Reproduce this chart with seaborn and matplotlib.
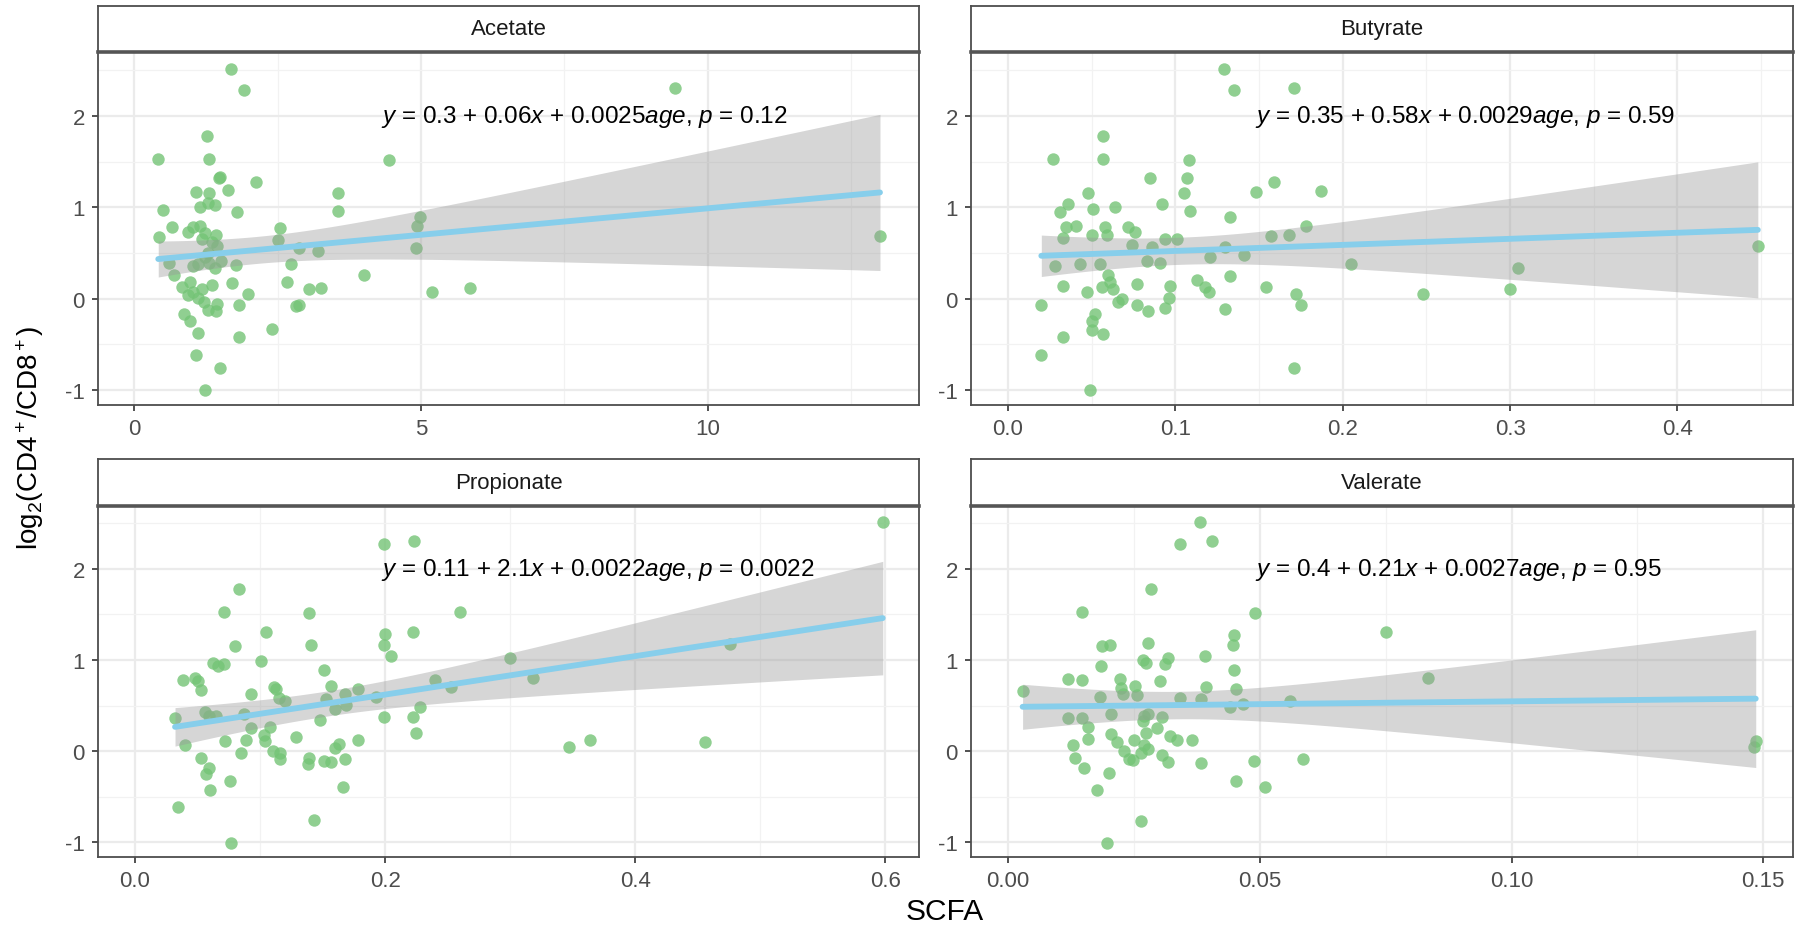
import numpy as np
import pandas as pd
import matplotlib
matplotlib.use("Agg")
import matplotlib.pyplot as plt
import seaborn as sns

# ---------------- data ----------------
panels = ["Acetate", "Butyrate", "Propionate", "Valerate"]

acetate_x = [1.69, 1.92, 9.43, 1.27, 0.42, 1.31, 4.44, 1.48, 1.50, 2.13, 1.07, 1.31, 1.64, 3.56,
             1.15, 1.28, 1.41, 1.80, 0.50, 3.55, 4.99, 4.93, 0.66, 0.94, 1.02, 1.15, 1.23, 2.54,
             0.43, 1.18, 1.43, 1.35, 2.51, 13.0, 2.88, 3.20, 4.91, 1.45, 1.28, 1.23, 0.61, 1.12,
             1.51, 1.78, 2.74, 1.31, 1.02, 1.41, 0.70, 4.01, 2.66, 1.70, 0.98, 0.84, 1.35, 3.05,
             3.25, 5.85, 5.19, 1.99, 1.02, 1.18, 1.12, 0.94, 1.21, 1.82, 1.45, 2.88, 2.82, 1.28,
             1.43, 0.87, 0.97, 2.41, 1.12, 1.82, 1.08, 1.50, 1.24]
acetate_y = [2.51, 2.28, 2.31, 1.78, 1.53, 1.53, 1.52, 1.32, 1.33, 1.28, 1.17, 1.16, 1.19, 1.16,
             1.00, 1.05, 1.03, 0.95, 0.97, 0.96, 0.89, 0.80, 0.78, 0.73, 0.78, 0.80, 0.72, 0.77,
             0.67, 0.65, 0.70, 0.62, 0.64, 0.68, 0.55, 0.52, 0.55, 0.58, 0.50, 0.45, 0.39, 0.38,
             0.41, 0.37, 0.38, 0.39, 0.36, 0.34, 0.26, 0.26, 0.18, 0.17, 0.18, 0.13, 0.15, 0.11,
             0.12, 0.12, 0.07, 0.05, 0.07, 0.10, 0.01, 0.04, -0.04, -0.07, -0.06, -0.07, -0.08, -0.12,
             -0.14, -0.17, -0.24, -0.33, -0.38, -0.42, -0.62, -0.76, -1.00]

butyrate_x = [0.129, 0.135, 0.171, 0.057, 0.027, 0.057, 0.108, 0.085, 0.107, 0.159, 0.048, 0.105,
              0.148, 0.187, 0.036, 0.031, 0.051, 0.064, 0.092, 0.109, 0.133, 0.035, 0.041, 0.058,
              0.072, 0.076, 0.050, 0.059, 0.033, 0.178, 0.168, 0.157, 0.074, 0.094, 0.101, 0.086,
              0.130, 0.448, 0.141, 0.121, 0.083, 0.091, 0.028, 0.043, 0.055, 0.205, 0.305, 0.060,
              0.133, 0.113, 0.061, 0.077, 0.033, 0.056, 0.097, 0.154, 0.300, 0.118, 0.063, 0.047,
              0.120, 0.248, 0.172, 0.068, 0.066, 0.096, 0.020, 0.175, 0.077, 0.084, 0.094, 0.130,
              0.052, 0.050, 0.050, 0.057, 0.033, 0.020, 0.171, 0.049]
butyrate_y = [2.51, 2.28, 2.31, 1.78, 1.53, 1.53, 1.52, 1.32, 1.32, 1.28, 1.16, 1.16,
              1.17, 1.18, 1.04, 0.95, 0.98, 1.00, 1.04, 0.96, 0.89, 0.78, 0.80, 0.78,
              0.78, 0.73, 0.70, 0.70, 0.66, 0.80, 0.70, 0.68, 0.59, 0.65, 0.65, 0.56,
              0.56, 0.58, 0.48, 0.46, 0.41, 0.39, 0.36, 0.38, 0.38, 0.38, 0.34, 0.26,
              0.25, 0.20, 0.18, 0.16, 0.14, 0.13, 0.14, 0.13, 0.10, 0.13, 0.10, 0.07,
              0.07, 0.05, 0.05, 0.00, -0.04, 0.01, -0.07, -0.07, -0.07, -0.14, -0.10, -0.11,
              -0.17, -0.24, -0.34, -0.39, -0.42, -0.62, -0.76, -1.00]

propionate_x = [0.598, 0.199, 0.223, 0.083, 0.071, 0.139, 0.260, 0.105, 0.200, 0.222, 0.080, 0.141,
                0.199, 0.476, 0.101, 0.205, 0.300, 0.062, 0.066, 0.071, 0.151, 0.038, 0.048, 0.050,
                0.318, 0.240, 0.053, 0.111, 0.113, 0.157, 0.178, 0.253, 0.093, 0.168, 0.115, 0.193,
                0.153, 0.120, 0.169, 0.160, 0.228, 0.056, 0.059, 0.065, 0.087, 0.032, 0.199, 0.222,
                0.148, 0.093, 0.108, 0.225, 0.129, 0.103, 0.178, 0.364, 0.456, 0.089, 0.072, 0.104,
                0.040, 0.163, 0.347, 0.160, 0.110, 0.116, 0.085, 0.139, 0.053, 0.116, 0.168, 0.151,
                0.157, 0.138, 0.059, 0.057, 0.166, 0.060, 0.076, 0.034, 0.143, 0.077]
propionate_y = [2.51, 2.27, 2.31, 1.78, 1.53, 1.52, 1.53, 1.31, 1.29, 1.31, 1.15, 1.16,
                1.17, 1.18, 0.99, 1.04, 1.02, 0.97, 0.94, 0.96, 0.89, 0.78, 0.80, 0.77,
                0.80, 0.78, 0.67, 0.71, 0.68, 0.72, 0.68, 0.70, 0.63, 0.63, 0.58, 0.59,
                0.57, 0.55, 0.51, 0.46, 0.49, 0.43, 0.39, 0.39, 0.41, 0.36, 0.38, 0.38,
                0.34, 0.26, 0.27, 0.20, 0.16, 0.18, 0.12, 0.12, 0.10, 0.12, 0.11, 0.11,
                0.07, 0.08, 0.05, 0.04, 0.00, -0.02, -0.02, -0.07, -0.07, -0.08, -0.08, -0.11,
                -0.12, -0.14, -0.18, -0.25, -0.39, -0.42, -0.33, -0.61, -0.75, -1.01]

valerate_x = [0.0382, 0.0342, 0.0406, 0.0284, 0.0146, 0.0490, 0.0751, 0.0187, 0.0202, 0.0279,
              0.0448, 0.0446, 0.0392, 0.0268, 0.0274, 0.0318, 0.0311, 0.0184, 0.0448, 0.0119,
              0.0146, 0.0835, 0.0222, 0.0301, 0.0252, 0.0225, 0.0393, 0.0452, 0.0029, 0.0256,
              0.0229, 0.0183, 0.0342, 0.0384, 0.0560, 0.0466, 0.0440, 0.0205, 0.0119, 0.0147,
              0.0271, 0.0279, 0.0306, 0.0268, 0.0159, 0.0296, 0.0204, 0.0274, 0.0322, 0.0158,
              0.0217, 0.0250, 0.0335, 0.0366, 0.0130, 0.1485, 0.1481, 0.0271, 0.0279, 0.0231,
              0.0265, 0.0240, 0.0249, 0.0133, 0.0306, 0.0318, 0.0383, 0.0488, 0.0585, 0.0151,
              0.0201, 0.0452, 0.0510, 0.0177, 0.0264, 0.0197]
valerate_y = [2.51, 2.27, 2.31, 1.78, 1.53, 1.52, 1.31, 1.15, 1.17, 1.19,
              1.28, 1.16, 1.04, 1.00, 0.97, 1.02, 0.96, 0.94, 0.89, 0.79,
              0.78, 0.80, 0.79, 0.77, 0.72, 0.69, 0.70, 0.68, 0.66, 0.62,
              0.63, 0.59, 0.58, 0.57, 0.55, 0.52, 0.49, 0.41, 0.36, 0.36,
              0.39, 0.41, 0.38, 0.33, 0.27, 0.26, 0.19, 0.20, 0.17, 0.13,
              0.10, 0.12, 0.12, 0.12, 0.07, 0.11, 0.05, 0.07, 0.03, 0.00,
              -0.02, -0.08, -0.10, -0.07, -0.04, -0.12, -0.13, -0.11, -0.08, -0.18,
              -0.24, -0.33, -0.39, -0.43, -0.76, -1.01]

equations = [
    r"$y$ = 0.3 + 0.06$x$ + 0.0025$age$, $p$ = 0.12",
    r"$y$ = 0.35 + 0.58$x$ + 0.0029$age$, $p$ = 0.59",
    r"$y$ = 0.11 + 2.1$x$ + 0.0022$age$, $p$ = 0.0022",
    r"$y$ = 0.4 + 0.21$x$ + 0.0027$age$, $p$ = 0.95",
]

x_ticks = [[0, 5, 10], [0.0, 0.1, 0.2, 0.3, 0.4], [0.0, 0.2, 0.4, 0.6], [0.00, 0.05, 0.10, 0.15]]
x_ticklabels = [["0", "5", "10"], ["0.0", "0.1", "0.2", "0.3", "0.4"],
                ["0.0", "0.2", "0.4", "0.6"], ["0.00", "0.05", "0.10", "0.15"]]
x_minor = [[2.5, 7.5, 12.5], [0.05, 0.15, 0.25, 0.35, 0.45], [0.1, 0.3, 0.5], [0.025, 0.075, 0.125]]
y_ticks = [-1, 0, 1, 2]
y_ticklabels = ["-1", "0", "1", "2"]
y_minor = [-0.5, 0.5, 1.5, 2.5]

xs = [acetate_x, butyrate_x, propionate_x, valerate_x]
ys = [acetate_y, butyrate_y, propionate_y, valerate_y]
df = pd.concat([pd.DataFrame({"SCFA": x, "ratio": y, "acid": name})
                for name, x, y in zip(panels, xs, ys)], ignore_index=True)

# ---------------- style ----------------
sns.set_theme(style="white")
plt.rcParams["font.family"] = ["Liberation Sans", "DejaVu Sans"]
plt.rcParams["mathtext.fontset"] = "custom"
plt.rcParams["mathtext.rm"] = "Liberation Sans"
plt.rcParams["mathtext.it"] = "Liberation Sans:italic"
plt.rcParams["mathtext.bf"] = "Liberation Sans:bold"
plt.rcParams["axes.unicode_minus"] = False

W, H = 1802, 928
fig = plt.figure(figsize=(W / 100, H / 100), dpi=100)

def fx(px):
    return px / W

def fy(py):
    return 1 - py / H

cols = [(98, 919), (971, 1793)]
rows = [((7, 53), (53, 406)), ((460, 507), (507, 858))]
xlims = [(-0.63, 13.68), (-0.022, 0.469), (-0.0296, 0.627), (-0.00735, 0.1559)]
ylims = [(-1.165, 2.70), (-1.165, 2.70), (-1.16, 2.69), (-1.16, 2.69)]

frame_col = "#4d4d4d"
point_col = "#74C476"
line_col = "#87CEEB"
T975 = 1.99  # t quantile (df ~ 78) for the 95% band of the linear fit


def lm_band(x, y, grid):
    x = np.asarray(x, float)
    y = np.asarray(y, float)
    n = len(x)
    xb = x.mean()
    sxx = ((x - xb) ** 2).sum()
    b = ((x - xb) * (y - y.mean())).sum() / sxx
    a = y.mean() - b * xb
    resid = y - (a + b * x)
    s = np.sqrt((resid ** 2).sum() / (n - 2))
    fit = a + b * grid
    se = s * np.sqrt(1.0 / n + (grid - xb) ** 2 / sxx)
    return fit - T975 * se, fit + T975 * se


for i, name in enumerate(panels):
    r, c = divmod(i, 2)
    x0, x1 = cols[c]
    (s0, s1), (p0, p1) = rows[r]
    ax = fig.add_axes([fx(x0), fy(p1), fx(x1 - x0), (p1 - p0) / H])
    sax = fig.add_axes([fx(x0), fy(s1), fx(x1 - x0), (s1 - s0) / H])

    sub = df[df["acid"] == name]
    sns.scatterplot(data=sub, x="SCFA", y="ratio", ax=ax, color=point_col, alpha=0.8,
                    s=80, linewidth=0, zorder=3)
    grid = np.linspace(sub["SCFA"].min(), sub["SCFA"].max(), 200)
    lo, hi = lm_band(sub["SCFA"], sub["ratio"], grid)
    ax.fill_between(grid, lo, hi, facecolor="#999999", alpha=0.4, linewidth=0, zorder=4)
    sns.regplot(data=sub, x="SCFA", y="ratio", ax=ax, scatter=False, ci=None,
                color=line_col, line_kws={"linewidth": 4.2, "zorder": 5})

    ax.set_xlim(*xlims[i])
    ax.set_ylim(*ylims[i])
    ax.set_xticks(x_ticks[i])
    ax.set_xticklabels(x_ticklabels[i])
    ax.set_xticks(x_minor[i], minor=True)
    ax.set_yticks(y_ticks)
    ax.set_yticklabels(y_ticklabels)
    ax.set_yticks(y_minor, minor=True)
    ax.grid(True, which="major", color="#EBEBEB", linewidth=1.6, zorder=0)
    ax.grid(True, which="minor", color="#F2F2F2", linewidth=0.9, zorder=0)
    ax.set_axisbelow(True)
    ax.tick_params(axis="both", which="major", length=4.5, width=1.2, color="#333333",
                   labelsize=16, labelcolor="#4D4D4D", pad=5, bottom=True, left=True)
    ax.tick_params(axis="both", which="minor", length=0)
    ax.set_xlabel("")
    ax.set_ylabel("")
    for sp in ax.spines.values():
        sp.set_color(frame_col)
        sp.set_linewidth(1.3)

    ax.text(0.345, 2.0, equations[i], transform=ax.get_yaxis_transform(),
            ha="left", va="center", fontsize=17.5, color="black", zorder=6)

    sax.set_xticks([])
    sax.set_yticks([])
    sax.set_facecolor("white")
    for k, sp in sax.spines.items():
        sp.set_color(frame_col)
        sp.set_linewidth(1.3)
    sax.spines["bottom"].set_linewidth(2.6)
    sax.spines["bottom"].set_color("#555555")
    sax.text(0.5, 0.5, name, ha="center", va="center", fontsize=16, color="#1A1A1A",
             transform=sax.transAxes)

fig.text(fx(945), fy(912), "SCFA", ha="center", va="center", fontsize=21.5, color="black")
fig.text(fx(30), fy(438), r"log$_2$(CD4$^+$/CD8$^+$)", ha="center", va="center",
         rotation=90, fontsize=20, color="black")

fig.savefig("out.png", dpi=100)
